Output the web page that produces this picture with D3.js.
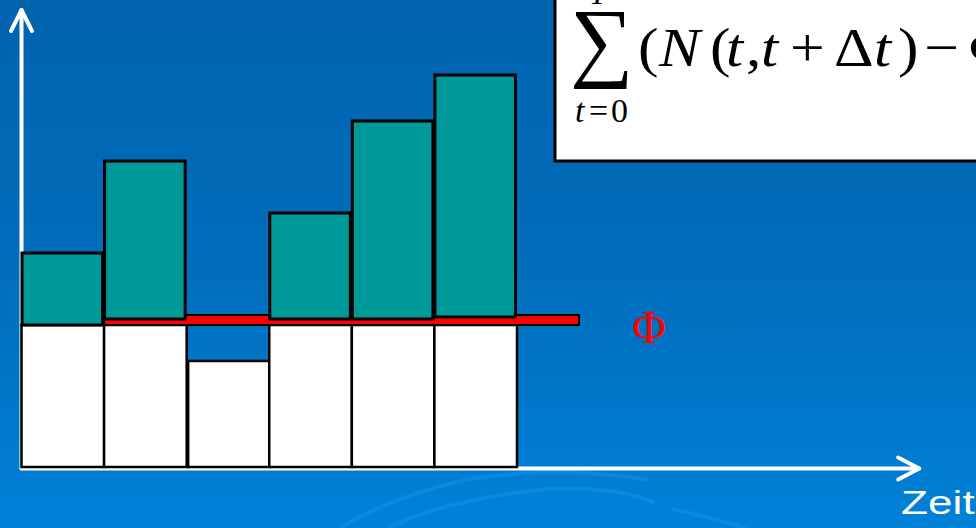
<!DOCTYPE html>
<html>
<head>
<meta charset="utf-8">
<script src="https://cdn.jsdelivr.net/npm/d3@7"></script>
<style>
  html, body { margin: 0; padding: 0; overflow: hidden; background: #0070c0; }
  svg { display: block; }
</style>
</head>
<body>
<script>
// Counts per time window: the part up to the threshold (white) and the
// excess above the threshold Φ (teal).
const windows = [0, 1, 2, 3, 4, 5];
const baseCounts = [7.1, 7.1, 5.3, 7.1, 7.1, 7.1];
const excessFrom = [7.1, 7.4, null, 7.4, 7.4, 7.5];
const peakCounts = [10.7, 15.3, null, 12.7, 17.3, 19.6];
const phi = 7.35;
const axisLabel = "Zeit";

const W = 976, H = 528;
const svg = d3.select("body").append("svg").attr("width", W).attr("height", H);

// Slide background
const defs = svg.append("defs");
const grad = defs.append("linearGradient").attr("id", "bg")
  .attr("x1", 0).attr("y1", 0).attr("x2", 0).attr("y2", 1);
grad.append("stop").attr("offset", "0%").attr("stop-color", "#0063ae");
grad.append("stop").attr("offset", "50%").attr("stop-color", "#006dbb");
grad.append("stop").attr("offset", "100%").attr("stop-color", "#0081d8");
svg.append("rect").attr("width", W).attr("height", H).attr("fill", "url(#bg)");

// faint decorative arcs near the bottom
const deco = svg.append("g").attr("fill", "none").attr("stroke", "#1590ea")
  .attr("stroke-opacity", 0.55).attr("stroke-width", 4);
deco.append("path").attr("d", "M340,528 Q395,495 470,479 Q560,465 648,480");
deco.append("path").attr("d", "M672,509 Q715,518 750,530");
deco.append("path").attr("d", "M388,528 Q450,498 550,489 Q615,486 655,503");

// Scales
const x = d3.scaleLinear().domain([0, 6]).range([21.5, 517]);
const y = d3.scaleLinear().domain([0, 22.85]).range([467, 10]);

// Axes drawn as arrows
const axes = svg.append("g").attr("stroke", "#fff").attr("stroke-width", 4)
  .attr("stroke-linecap", "round").attr("stroke-linejoin", "round").attr("fill", "none");
const xEnd = x(10.87), yTop = y(22.85), x0 = x(0), yBase = y(0) + 1.5;
axes.append("line").attr("x1", x0).attr("y1", yBase).attr("x2", x0).attr("y2", yTop);
axes.append("polyline").attr("points", [[x0 - 10.5, yTop + 21], [x0, yTop], [x0 + 10.5, yTop + 21]].join(" "));
axes.append("line").attr("x1", x0).attr("y1", yBase).attr("x2", xEnd).attr("y2", yBase);
axes.append("polyline").attr("points", [[xEnd - 21, yBase - 11], [xEnd, yBase], [xEnd - 21, yBase + 11]].join(" "));

// White bars: counts up to the threshold
svg.append("g").selectAll("rect").data(windows).join("rect")
  .attr("x", i => x(i) + (i === 2 ? 1.5 : 0))
  .attr("y", i => y(baseCounts[i]))
  .attr("width", i => x(i + 1) - x(i) - (i === 2 ? 1.5 : 0))
  .attr("height", i => y(0) - y(baseCounts[i]))
  .attr("fill", "#fff").attr("stroke", "#000").attr("stroke-width", 2.5);

// Threshold line Φ
svg.append("rect")
  .attr("x", x(1)).attr("y", y(phi) - 5)
  .attr("width", x(6.75) - x(1)).attr("height", 10)
  .attr("fill", "#ff0000").attr("stroke", "#000").attr("stroke-width", 2);

// Teal bars: excess above Φ
svg.append("g").selectAll("rect").data(windows.filter(i => peakCounts[i] != null)).join("rect")
  .attr("x", i => x(i) + 0.5)
  .attr("y", i => y(peakCounts[i]))
  .attr("width", i => x(i + 1) - x(i) - 2)
  .attr("height", i => y(excessFrom[i]) - y(peakCounts[i]))
  .attr("fill", "#009999").attr("stroke", "#000").attr("stroke-width", 3);

// Φ label
svg.append("text")
  .attr("x", x(7.6)).attr("y", y(phi) + 23)
  .attr("text-anchor", "middle")
  .attr("font-family", "'Liberation Serif', 'Times New Roman', serif")
  .attr("font-size", 46).attr("fill", "#ff0000")
  .text("Φ");

// Axis label (slide text is stretched horizontally)
svg.append("text")
  .attr("transform", "translate(901,514) scale(1.3,1)")
  .attr("font-family", "'Liberation Sans', Arial, sans-serif")
  .attr("font-size", 34).attr("fill", "#fff")
  .text(axisLabel);

// Formula box
const serif = "'Liberation Serif', 'Times New Roman', serif";
const fb = svg.append("g").attr("font-family", serif);
fb.append("rect").attr("x", 555).attr("y", -10).attr("width", 460).attr("height", 171)
  .attr("fill", "#fff").attr("stroke", "#000").attr("stroke-width", 3);
fb.append("text").attr("x", 589).attr("y", 4)
  .attr("font-size", 32).attr("font-style", "italic").text("T");
fb.append("text").attr("x", 570).attr("y", 70)
  .attr("font-size", 89).text("∑");

// lower limit t = 0
const lower = fb.append("text").attr("y", 122).attr("font-size", 34);
[["t", 575, true], ["=", 589, false], ["0", 611, false]]
  .forEach(([s, px, it]) => lower.append("tspan").attr("x", px)
    .attr("font-style", it ? "italic" : "normal").text(s));

// summand (N(t, t + Δt) − Φ), each glyph set and widened like the slide text
const summand = [["(", 638, false], ["N", 659, true], ["(", 710, false], ["t", 726, true],
 [",", 746, false], ["t", 761, true], ["+", 790, false], ["Δ", 834, false],
 ["t", 874, true], [")", 898, false], ["−", 924, false], ["Φ", 969, false]];
fb.append("g").attr("font-size", 55).selectAll("text").data(summand).join("text")
  .attr("transform", d => `translate(${d[1]},66) scale(1.12,1)`)
  .attr("font-style", d => d[2] ? "italic" : "normal")
  .text(d => d[0]);
</script>
</body>
</html>
